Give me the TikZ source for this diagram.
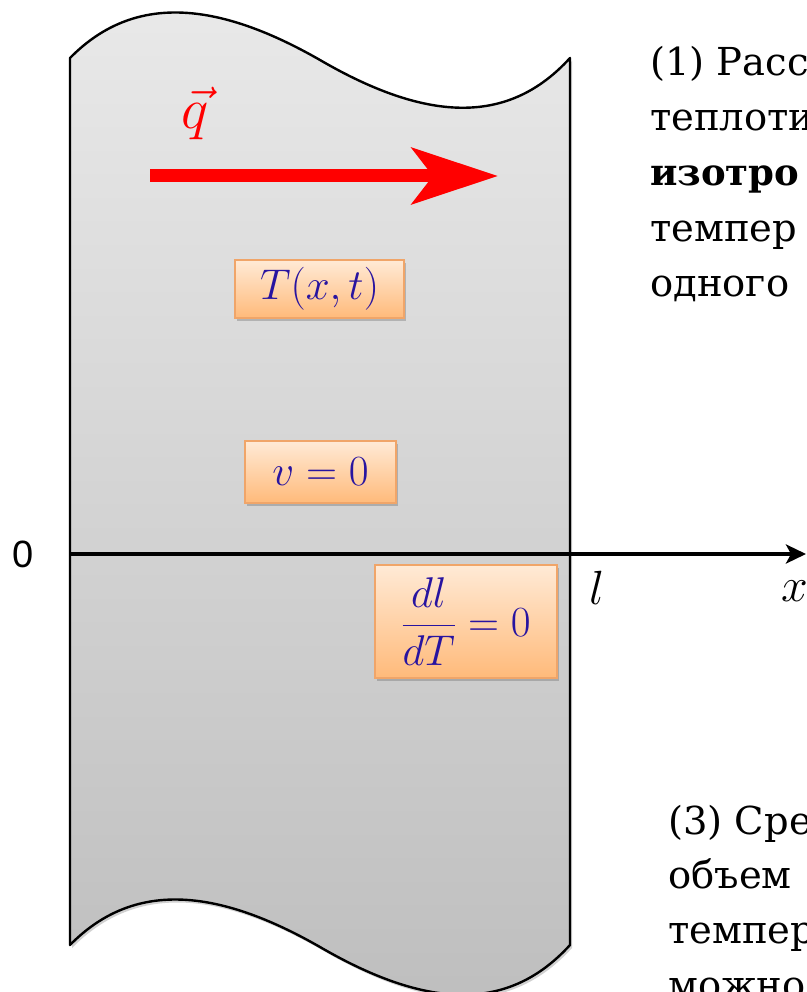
\RequirePackage{fix-cm}
\documentclass[tikz,border=0pt]{standalone}
\usepackage{fontspec}
\newfontfamily\serifru{DejaVu Serif}
\newfontfamily\sansarial{Liberation Sans}
\usetikzlibrary{arrows.meta,shadows}
\definecolor{boxblue}{RGB}{40,20,160}
\definecolor{boxedge}{RGB}{240,165,105}
\definecolor{boxtop}{RGB}{255,234,214}
\definecolor{boxbot}{RGB}{255,186,122}
\definecolor{slabtop}{RGB}{233,233,233}
\definecolor{slabbot}{RGB}{190,190,190}
\definecolor{qred}{RGB}{255,0,0}
\tikzset{
  rutext/.style={font=\serifru\fontsize{38.5}{44}\selectfont, anchor=base west, inner sep=0pt, text=black},
  eqbox/.style={draw=boxedge, line width=1.6pt, top color=boxtop, bottom color=boxbot,
    inner sep=0pt, text=boxblue, font=\fontsize{43}{50}\selectfont,
    drop shadow={shadow xshift=2pt, shadow yshift=-3pt, opacity=0.35, fill=black!60}},
  axlabel/.style={font=\fontsize{48}{56}\selectfont, inner sep=0pt}
}
\begin{document}
\begin{tikzpicture}[x=1pt,y=-1pt]
\useasboundingbox (0,0) rectangle (806,992);
\clip (0,0) rectangle (806,992);
% slab shadow
\fill[black, opacity=0.18, xshift=2pt, yshift=-3pt]
  (70,58) .. controls (130,-3) and (210,-3) .. (320,60)
  .. controls (430,124) and (510,124) .. (570,58)
  -- (570,945) .. controls (510,1011) and (430,1011) .. (320,947)
  .. controls (210,884) and (130,884) .. (70,945) -- cycle;
% slab
\draw[line width=2.4pt, top color=slabtop, bottom color=slabbot, line join=round]
  (70,58) .. controls (130,-3) and (210,-3) .. (320,60)
  .. controls (430,124) and (510,124) .. (570,58)
  -- (570,945) .. controls (510,1011) and (430,1011) .. (320,947)
  .. controls (210,884) and (130,884) .. (70,945) -- cycle;
% heat flux arrow
\coordinate (qs) at (150,176);
\coordinate (qe) at (498,176);
\draw[qred, line width=13pt, -{Stealth[length=86pt, width=56pt, inset=21pt]}] (qs) -- (qe);
\node[text=qred, font=\fontsize{58}{66}\selectfont, inner sep=0pt] (qlab) at (195,113) {$\vec{q}$};
% boxes
\node[eqbox, minimum width=169pt, minimum height=58pt] (bT) at (319.5,289) {$T(x,t)$};
\node[eqbox, minimum width=151pt, minimum height=62pt] (bv) at (320.5,472) {$v=0$};
\node[eqbox, minimum width=182pt, minimum height=113pt] (bd) at (466,621.5) {$\displaystyle\frac{dl}{dT}=0$};
% axis
\coordinate (o) at (70,554);
\coordinate (xend) at (806,554);
\draw[line width=4pt, -{Stealth[length=20pt, width=19pt, inset=5pt]}] (o) -- (xend);
\node[font=\sansarial\fontsize{38}{44}\selectfont, inner sep=0pt] (zero) at (23.5,554) {0};
\node[axlabel] (llab) at (597,588) {$l$};
\node[axlabel] (xlab) at (795,591) {$x$};
% right text (clipped by page edge, as in the reference)
\node[rutext] (t1) at (650,76) {(1) Расс};
\node[rutext] (t2) at (650,131) {теплоти};
\node[rutext, font=\serifru\bfseries\fontsize{37}{44}\selectfont] (t3) at (650,186) {изотро};
\node[rutext] (t4) at (650,241) {темпер};
\node[rutext] (t5) at (650,296) {одного};
\node[rutext] (b1) at (668,834) {(3) Сре};
\node[rutext] (b2) at (668,888) {объем};
\node[rutext] (b3) at (668,943) {темпер};
\node[rutext] (b4) at (668,998) {можно};
\end{tikzpicture}
\end{document}
